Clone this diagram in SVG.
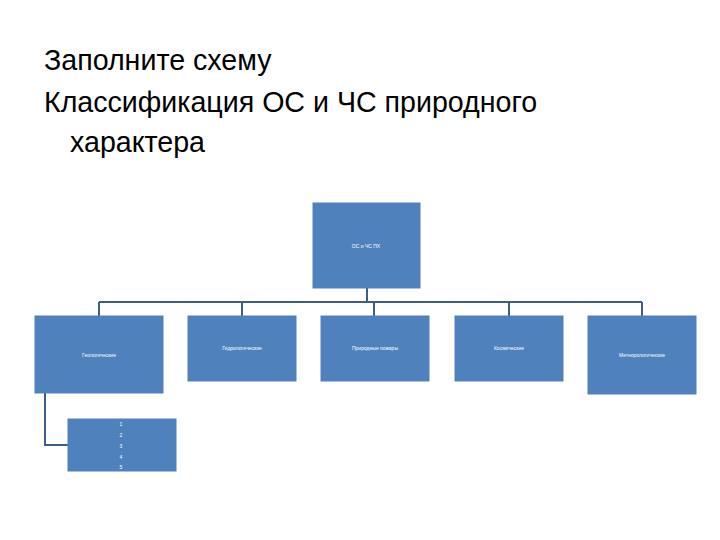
<svg xmlns="http://www.w3.org/2000/svg" width="720" height="540" viewBox="0 0 720 540">
<style>
.t{font-family:"Liberation Sans","DejaVu Sans",sans-serif;font-size:28.6px;fill:#000}
.b{fill:#4F81BD;stroke:#4F81BD;stroke-width:1}
.l{font-family:"Liberation Sans","DejaVu Sans",sans-serif;font-size:5px;fill:#fff;text-anchor:middle}
.c{fill:none;stroke:#3D5E88;stroke-width:2}
</style>
<rect width="720" height="540" fill="#fff"/>
<g id="title">
<text class="t" x="44" y="70">Заполните схему</text>
<text class="t" x="44" y="112">Классификация ОС и ЧС природного</text>
<text class="t" x="70" y="152">характера</text>
</g>
<g id="connectors">
<path class="c" d="M367,288 V302 M99,302 H642 M99,302 V316 M242,302 V316 M374,302 V316 M509,302 V316 M642,302 V316"/>
<path class="c" d="M45,393 V445 H68"/>
</g>
<g id="root"><rect class="b" x="313" y="203" width="107" height="85"/><text class="l" x="366" y="248">ОС и ЧС ПХ</text></g>
<g id="geo"><rect class="b" x="35" y="316" width="128" height="77"/><text class="l" x="99" y="357">Геологические</text></g>
<g id="hydro"><rect class="b" x="188" y="316" width="108" height="65"/><text class="l" x="242" y="350">Гидрологические</text></g>
<g id="fire"><rect class="b" x="321" y="316" width="108" height="65"/><text class="l" x="375" y="350">Природные пожары</text></g>
<g id="cosmic"><rect class="b" x="455" y="316" width="108" height="65"/><text class="l" x="509" y="350">Космические</text></g>
<g id="meteo"><rect class="b" x="588" y="316" width="108" height="78"/><text class="l" x="642" y="357">Метеорологические</text></g>
<g id="list"><rect class="b" x="68" y="419" width="108" height="52"/>
<text class="l" x="121" y="426">1</text><text class="l" x="121" y="437">2</text><text class="l" x="121" y="448">3</text><text class="l" x="121" y="459">4</text><text class="l" x="121" y="469">5</text></g>
</svg>
